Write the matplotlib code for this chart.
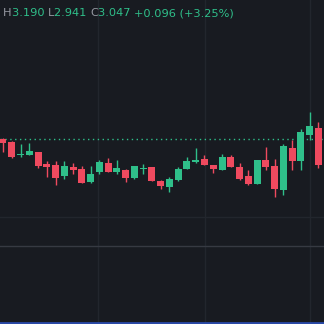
import numpy as np
import matplotlib.pyplot as plt
from matplotlib.lines import Line2D

# OHLC (one candle per bar)
opens = [3.000, 2.985, 2.920, 2.920, 2.935, 2.875, 2.870, 2.815, 2.860, 2.850,
         2.785, 2.835, 2.880, 2.835, 2.845, 2.805, 2.850, 2.860, 2.790, 2.760,
         2.795, 2.850, 2.885, 2.900, 2.870, 2.845, 2.910, 2.860, 2.815, 2.775,
         2.895, 2.865, 2.745, 2.955, 2.890, 3.020, 3.055]
highs = [3.005, 2.990, 2.975, 2.980, 2.935, 2.890, 2.890, 2.890, 2.880, 2.865,
         2.865, 2.895, 2.905, 2.895, 2.850, 2.865, 2.875, 2.860, 2.795, 2.810,
         2.860, 2.910, 2.955, 2.920, 2.870, 2.925, 2.920, 2.880, 2.845, 2.895,
         2.960, 2.900, 2.975, 2.995, 3.050, 3.135, 3.085]
lows = [2.935, 2.905, 2.910, 2.920, 2.855, 2.810, 2.770, 2.800, 2.825, 2.780,
        2.780, 2.825, 2.835, 2.825, 2.785, 2.800, 2.825, 2.790, 2.750, 2.735,
        2.790, 2.850, 2.880, 2.870, 2.830, 2.845, 2.860, 2.795, 2.770, 2.775,
        2.845, 2.710, 2.720, 2.845, 2.845, 2.995, 2.855]
closes = [2.980, 2.910, 2.922, 2.940, 2.865, 2.860, 2.805, 2.865, 2.845, 2.780,
          2.825, 2.885, 2.835, 2.855, 2.805, 2.865, 2.852, 2.790, 2.765, 2.800,
          2.850, 2.890, 2.895, 2.870, 2.850, 2.910, 2.860, 2.800, 2.775, 2.895,
          2.860, 2.750, 2.965, 2.890, 3.035, 3.065, 2.870]
ref_price = 3.000
grid_x = [10.85, 23.05, 35.05]

bg = '#181b21'
up = '#2fbf8a'
down = '#ef4a5f'

fig = plt.figure(figsize=(3.24, 3.24), dpi=100, facecolor=bg)
ax = fig.add_axes([0, 0, 1, 1], facecolor=bg)

x = np.arange(len(opens))
o = np.array(opens); c = np.array(closes)
h = np.array(highs); l = np.array(lows)
col = np.where(c >= o, up, down)

ax.vlines(x, l, h, colors=col, lw=1.0, zorder=3)
bottom = np.minimum(o, c)
height = np.maximum(np.abs(c - o), 0.003)
ax.bar(x, height, bottom=bottom, width=0.8, color=col, linewidth=0, zorder=4)

ax.axhline(ref_price, color=up, lw=1.0, ls=(0, (1, 2.5)), zorder=2)

for gx in grid_x:
    ax.axvline(gx, color='#22262d', lw=1.0, zorder=1)

ax.set_xlim(-0.34, 36.64)
ax.set_ylim(2.075, 3.695)
ax.axis('off')

# pane lines and bottom bar (figure coords)
fig.add_artist(Line2D([0, 1], [1 - 217 / 324] * 2, color='#22262d', lw=1.0))
fig.add_artist(Line2D([0, 1], [1 - 246 / 324] * 2, color='#363a42', lw=1.0))
fig.add_artist(Line2D([0, 1], [1 - 323 / 324] * 2, color='#2a4aa8', lw=2.0))

# header legend
gray = '#9598a1'
parts = [('H', gray), ('3.190 ', up), ('L', gray), ('2.941 ', up),
         ('C', gray), ('3.047 ', up), ('+0.096 (+3.25%)', up)]
tx = 3 / 324
t = None
for s, cc in parts:
    t = fig.text(tx, 1 - 13 / 324, s, color=cc, fontsize=8.2,
                 va='center', ha='left', family='DejaVu Sans')
    fig.canvas.draw()
    bb = t.get_window_extent()
    tx = bb.x1 / fig.bbox.width

fig.savefig('out.png', dpi=100, facecolor=bg)
